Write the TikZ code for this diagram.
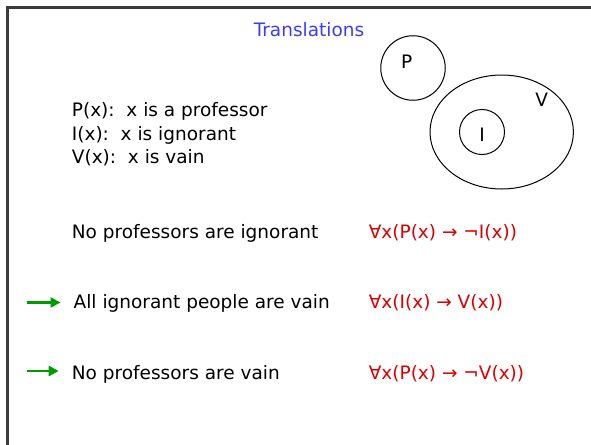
\documentclass[tikz,border=0pt]{standalone}
\usepackage{fontspec}
\setmainfont{DejaVu Sans}
\usetikzlibrary{positioning,arrows.meta,shapes.geometric}

\definecolor{titleblue}{RGB}{60,60,255}
\definecolor{formred}{RGB}{218,0,0}
\definecolor{markgreen}{RGB}{0,155,0}
\definecolor{framegray}{RGB}{60,60,60}

\begin{document}
\begin{tikzpicture}[x=1pt, y=-1pt,
    >={Triangle[length=10pt,width=10pt]},
    txt/.style={font=\fontsize{18.5}{23.5}\selectfont, inner sep=0pt, anchor=base west},
    defs/.style={txt, align=left, anchor=north west},
    form/.style={txt, text=formred},
    setc/.style={draw, line width=1pt, circle, inner sep=0pt, minimum size=#1},
    sete/.style={draw, line width=1pt, ellipse, inner sep=0pt, minimum width=143.4pt, minimum height=114pt},
    setlab/.style={font=\fontsize{18.5}{20}\selectfont, inner sep=0pt, anchor=base},
    pointer/.style={->, draw=markgreen, line width=2.8pt, shorten >=13pt},
]
  \useasboundingbox (0,0) rectangle (591,444);
  \draw[framegray, line width=2.2pt] (7.5,7.5) rectangle (620,470);

  % ---------------- title ----------------
  \node[txt, anchor=base, text=titleblue] (title) at (309,36.7) {Translations};

  % ---------------- predicates ----------------
  \node[defs] (preds) at (71.7,102.5)
       {P(x):\ \ x is a professor\\I(x):\ \ x is ignorant\\V(x):\ \ x is vain};

  % ---------------- sets ----------------
  \node[setc=64.5pt] (setP) at (413,68) {};
  \node[sete] (setV) at (501.7,132) {};
  \node[setc=45pt] (setI) at (482,132) {};
  \node[setlab] (labP) at (406.7,68.3) {P};
  \node[setlab] (labV) at (541.7,106.7) {V};
  \node[setlab] (labI) at (482,141.7) {I};

  % ---------------- statements ----------------
  \node[txt] (noign) at (71.7,238.3) {No professors are ignorant};
  \node[txt] (allign) at (73.5,308.3) {All ignorant people are vain};
  \node[txt] (novain) at (71.7,379.3) {No professors are vain};
  \node[form] (fnoign) at (368.6,238.3) {∀x(P(x) → ¬I(x))};
  \node[form] (fallign) at (368.6,308.3) {∀x(I(x) → V(x))};
  \node[form] (fnovain) at (368.6,379.3) {∀x(P(x) → ¬V(x))};

  % ---------------- pointers ----------------
  \coordinate (ptrA) at (26.5,302.5);
  \coordinate (ptrB) at (26.5,371);
  \draw[pointer] (ptrA) -- (ptrA -| allign.west);
  \draw[pointer] (ptrB) -- (ptrB -| novain.west);
\end{tikzpicture}
\end{document}
